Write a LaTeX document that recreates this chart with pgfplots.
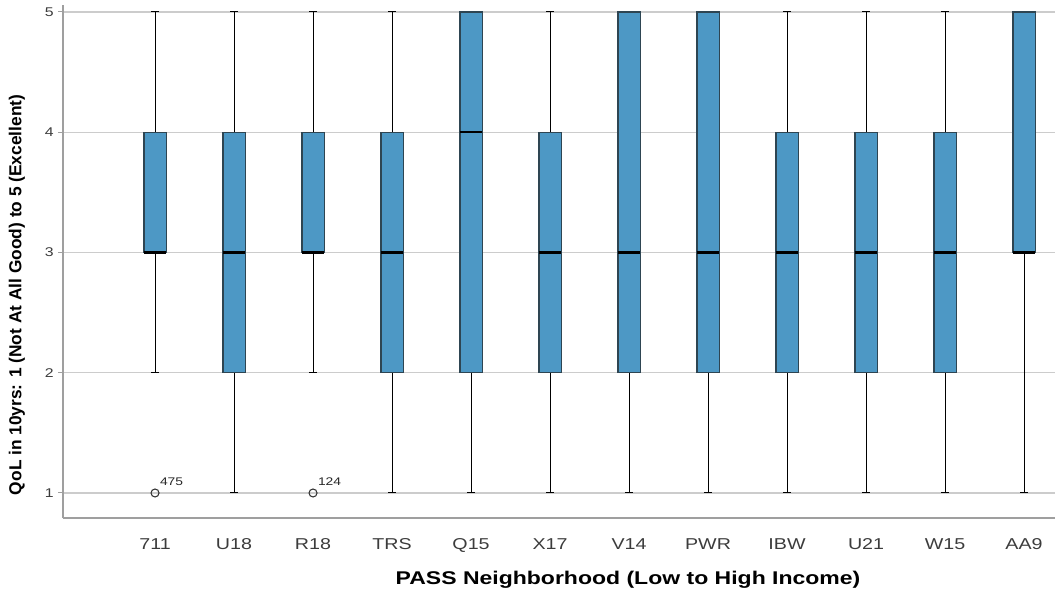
\documentclass[border=0pt]{standalone}
\usepackage{fontspec}
\setmainfont[FakeStretch=1.25]{Liberation Sans}
\newfontfamily\yfont{Liberation Sans}
\usepackage{pgfplots}
\pgfplotsset{compat=1.18}
\usepgfplotslibrary{statistics}
\definecolor{boxblue}{HTML}{4D98C5}
\definecolor{boxedge}{HTML}{2E4552}
\definecolor{tickgray}{HTML}{3C3C3C}
\begin{document}
\begin{tikzpicture}
\begin{axis}[
  scale only axis,
  width=744pt, height=384.75pt,
  xmin=-1.165, xmax=11.392,
  ymin=0.792, ymax=5.058,
  axis x line=bottom, axis y line=left,
  axis line style={-, draw=gray!75, line width=1pt},
  xtick={0,...,11},
  xticklabels={711,U18,R18,TRS,Q15,X17,V14,PWR,IBW,U21,W15,AA9},
  x tick style={draw=none},
  ytick={1,2,3,4,5},
  y tick style={draw=gray!75, line width=0.75pt},
  tick align=outside,
  major tick length=3.5pt,
  ymajorgrids,
  major grid style={draw=gray!40, line width=0.8pt},
  /pgf/number format/assume math mode=true,
  xticklabel style={font=\fontsize{11.8}{14}\selectfont, text=tickgray, yshift=-8.5pt},
  yticklabel style={font=\fontsize{9.5}{11}\selectfont, text=tickgray},
  xlabel={\bfseries PASS Neighborhood (Low to High Income)},
  ylabel={\yfont\bfseries QoL in 10yrs: 1 (Not At All Good) to 5 (Excellent)},
  every axis x label/.style={at={(axis description cs:0.5696,0)}, anchor=center, yshift=-46.5pt, font=\fontsize{13.8}{16}\selectfont},
  every axis y label/.style={at={(axis description cs:0,0.435)}, xshift=-34.5pt, anchor=center, rotate=90, font=\fontsize{13}{15}\selectfont},
  boxplot/draw direction=y,
  boxplot/box extend=0.28,
  boxplot/whisker extend=0.1,
  boxplot/every box/.style={draw=boxedge, fill=boxblue, line width=0.8pt},
  boxplot/every whisker/.style={draw=black, line width=0.75pt},
  boxplot/every median/.style={draw=black, line width=1.8pt},
  clip=false,
]
\addplot[boxplot prepared={lower whisker=2, lower quartile=3, median=3, upper quartile=4, upper whisker=5, draw position=0}] coordinates {};
\addplot[boxplot prepared={lower whisker=1, lower quartile=2, median=3, upper quartile=4, upper whisker=5, draw position=1}] coordinates {};
\addplot[boxplot prepared={lower whisker=2, lower quartile=3, median=3, upper quartile=4, upper whisker=5, draw position=2}] coordinates {};
\addplot[boxplot prepared={lower whisker=1, lower quartile=2, median=3, upper quartile=4, upper whisker=5, draw position=3}] coordinates {};
\addplot[boxplot prepared={lower whisker=1, lower quartile=2, median=4, upper quartile=5, upper whisker=5, draw position=4}] coordinates {};
\addplot[boxplot prepared={lower whisker=1, lower quartile=2, median=3, upper quartile=4, upper whisker=5, draw position=5}] coordinates {};
\addplot[boxplot prepared={lower whisker=1, lower quartile=2, median=3, upper quartile=5, upper whisker=5, draw position=6}] coordinates {};
\addplot[boxplot prepared={lower whisker=1, lower quartile=2, median=3, upper quartile=5, upper whisker=5, draw position=7}] coordinates {};
\addplot[boxplot prepared={lower whisker=1, lower quartile=2, median=3, upper quartile=4, upper whisker=5, draw position=8}] coordinates {};
\addplot[boxplot prepared={lower whisker=1, lower quartile=2, median=3, upper quartile=4, upper whisker=5, draw position=9}] coordinates {};
\addplot[boxplot prepared={lower whisker=1, lower quartile=2, median=3, upper quartile=4, upper whisker=5, draw position=10}] coordinates {};
\addplot[boxplot prepared={lower whisker=1, lower quartile=3, median=3, upper quartile=5, upper whisker=5, draw position=11}] coordinates {};
\addplot[only marks, mark=o, mark size=3pt, mark options={draw=black!80, line width=0.8pt},
  nodes near coords, point meta=explicit symbolic,
  every node near coord/.style={anchor=south west, xshift=0pt, yshift=2pt, font=\fontsize{8.3}{10}\selectfont, text=black!85}]
  table[meta=label] {
x y label
0 1 475
2 1 124
};
\end{axis}
\pgfresetboundingbox
\useasboundingbox (-47.25pt,-54pt) rectangle (744pt,388.5pt);
\end{tikzpicture}
\end{document}
